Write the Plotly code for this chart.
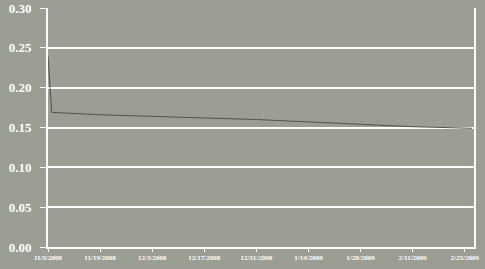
import plotly.graph_objects as go

dates = ["2008-11-05", "2008-11-06", "2008-11-19", "2008-12-03", "2008-12-17",
         "2008-12-31", "2009-01-14", "2009-01-28", "2009-02-11", "2009-02-27"]
values = [0.240, 0.169, 0.166, 0.164, 0.162, 0.160, 0.157, 0.154, 0.151, 0.149]

tick_vals = ["2008-11-05", "2008-11-19", "2008-12-03", "2008-12-17", "2008-12-31",
             "2009-01-14", "2009-01-28", "2009-02-11", "2009-02-25"]
tick_text = ["11/5/2008", "11/19/2008", "12/3/2008", "12/17/2008", "12/31/2008",
             "1/14/2009", "1/28/2009", "2/11/2009", "2/25/2009"]

fig = go.Figure()
fig.add_trace(go.Scatter(x=dates, y=values, mode="lines",
                         line=dict(color="#50544b", width=1)))

bg = "#9b9e93"
fig.update_layout(
    width=485, height=269,
    margin=dict(l=48, r=11, t=8, b=22),
    paper_bgcolor=bg, plot_bgcolor=bg,
    showlegend=False,
    font=dict(family="Liberation Serif", color="white"),
)
fig.update_xaxes(
    range=["2008-11-05", "2009-02-27 12:00"],
    tickvals=tick_vals, ticktext=tick_text,
    tickfont=dict(size=7, color="white", family="Liberation Serif", weight="bold"),
    showgrid=False, zeroline=False, automargin=False,
    showline=True, linecolor="white", linewidth=2,
    ticks="outside", ticklen=3, tickcolor="white", tickwidth=1,
)
fig.update_yaxes(
    range=[0, 0.30], tickvals=[0, 0.05, 0.10, 0.15, 0.20, 0.25, 0.30],
    tickformat=".2f", automargin=False,
    tickfont=dict(size=13, color="white", family="Liberation Serif", weight="bold"),
    showgrid=True, gridcolor="white", gridwidth=2,
    zeroline=False,
    showline=True, linecolor="white", linewidth=2, mirror=True,
    ticks="outside", ticklen=6, tickcolor="white", tickwidth=1,
    ticklabelstandoff=6,
)

fig.write_html("out.html", config={"displayModeBar": False},
               post_script="document.body.style.margin='0';")
